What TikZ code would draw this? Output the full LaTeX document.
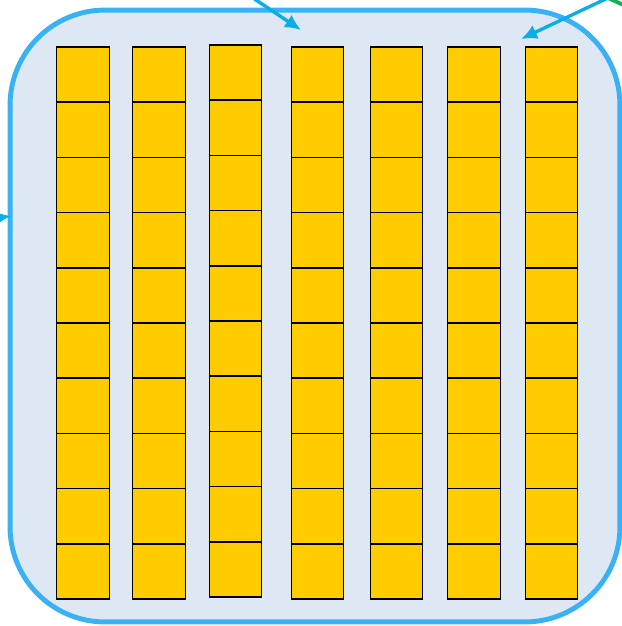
\documentclass[tikz,border=0pt]{standalone}
\usepackage{tikz}
\usetikzlibrary{arrows.meta,positioning,calc}
\definecolor{trayfill}{RGB}{222,232,245}
\definecolor{trayline}{RGB}{56,178,245}
\definecolor{cellfill}{RGB}{255,204,0}
\definecolor{pointer}{RGB}{10,174,230}
\definecolor{pointergreen}{RGB}{20,175,90}
\tikzset{
  % Tray: rounded light-blue enclosure
  tray/.style={draw=trayline, fill=trayfill, rectangle, rounded corners=1.9cm,
               line width=2.8pt, minimum width=12.2cm, minimum height=12.24cm},
  % One unit square of a column
  cell/.style={draw=black, fill=cellfill, rectangle, line width=0.8pt,
               minimum width=1.05cm, minimum height=1.104cm, inner sep=0pt},
  % Pointer arrows coming in from outside
  pointarr/.style={draw=pointer, -{Latex[length=3.2mm,width=3mm]}, line width=1.9pt},
  pointline/.style={draw=pointergreen, line width=2.2pt}
}
\begin{document}
\begin{tikzpicture}[x=0.02cm, y=-0.02cm]
\useasboundingbox (0,0) rectangle (622,626);
\begin{scope}
\clip (0,0) rectangle (622,626);

% ============== Tray ==============
\node[tray] (tray) at (315,316) {};

% ============== Columns of ten squares ==============
\foreach \c/\cx/\ty in {1/83/47, 2/159/47, 3/235.5/45, 4/317.5/47, 5/396.5/47, 6/474/47, 7/551.5/47} {
  \foreach \r in {1,...,10} {
    \node[cell] (cell-\c-\r) at (\cx, {\ty + 27.6 + (\r-1)*55.2}) {};
  }
}

% ============== Pointers ==============
\coordinate (topTail) at (250,-4);
\coordinate (topTip) at (301,30);
\draw[pointarr] (topTail) -- (topTip);

\coordinate (rightTail) at (612,-4);
\coordinate (rightTip) at (521,39);
\draw[pointarr] (rightTail) -- (rightTip);
\coordinate (greenA) at (606,-3);
\coordinate (greenB) at (630,8);
\draw[pointline] (greenA) -- (greenB);

\coordinate (leftTail) at (-30,222);
\coordinate (leftTip) at (11,216);
\draw[pointarr] (leftTail) -- (leftTip);
\end{scope}

\end{tikzpicture}
\end{document}
